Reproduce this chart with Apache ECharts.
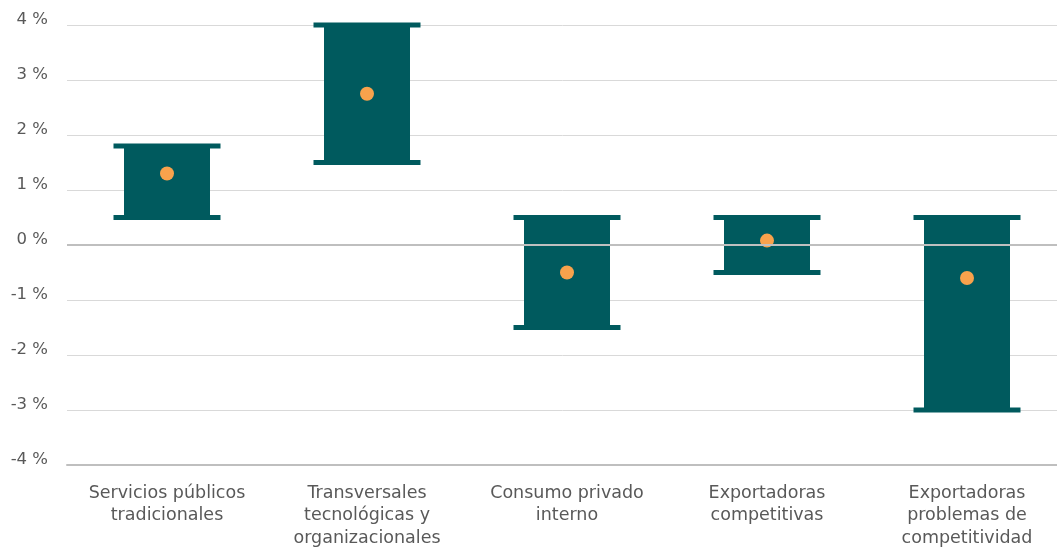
<!DOCTYPE html>
<html>
<head>
<meta charset="utf-8">
<script src="https://cdn.jsdelivr.net/npm/echarts@6/dist/echarts.min.js"></script>
<style>
  html, body { margin: 0; padding: 0; background: #ffffff; }
  #chart { width: 1057px; height: 548px; }
</style>
</head>
<body>
<div id="chart"></div>
<script>
// Sector groups
const categories = [
  'Servicios públicos\ntradicionales',
  'Transversales\ntecnológicas y\norganizacionales',
  'Consumo privado\ninterno',
  'Exportadoras\ncompetitivas',
  'Exportadoras\nproblemas de\ncompetitividad'
];
// Range bounds (%) and central value (%)
const rangeHigh = [1.8, 4.0, 0.5, 0.5, 0.5];
const rangeLow  = [0.5, 1.5, -1.5, -0.5, -3.0];
const midValue  = [1.3, 2.75, -0.5, 0.08, -0.6];

const TEAL = '#005a5e';
const ORANGE = '#f8a24c';
const FONT = '"DejaVu Sans", "Noto Sans", sans-serif';

const rangeData = categories.map((c, i) => [i, rangeLow[i], rangeHigh[i]]);
const midData = categories.map((c, i) => [i, midValue[i]]);

const chart = echarts.init(document.getElementById('chart'), null, { renderer: 'canvas' });

chart.setOption({
  animation: false,
  backgroundColor: '#ffffff',
  grid: { left: 67, top: 25, width: 1000, height: 440, containLabel: false, outerBoundsMode: 'none' },
  xAxis: {
    type: 'category',
    data: categories,
    boundaryGap: true,
    axisLine: { show: true, onZero: false, lineStyle: { color: '#bfbfbf', width: 2 } },
    axisTick: { show: false },
    axisLabel: {
      interval: 0,
      margin: 17,
      color: '#595959',
      fontFamily: FONT,
      fontSize: 17.5,
      lineHeight: 22.5
    }
  },
  yAxis: {
    type: 'value',
    min: -4,
    max: 4,
    interval: 1,
    axisLine: { show: false },
    axisTick: { show: false },
    splitLine: { show: true, lineStyle: { color: '#d9d9d9', width: 1 } },
    axisLabel: {
      margin: 19,
      color: '#595959',
      fontFamily: FONT,
      fontSize: 16.5,
      verticalAlign: 'bottom',
      lineHeight: 17,
      padding: [0, 0, -3, 0],
      formatter: '{value} %'
    }
  },
  series: [
    {
      // zero reference line, drawn beneath the ranges
      type: 'line',
      data: [],
      z: 1,
      silent: true,
      markLine: {
        silent: true,
        symbol: 'none',
        label: { show: false },
        lineStyle: { color: '#bfbfbf', width: 2, type: 'solid' },
        data: [{ yAxis: 0 }]
      }
    },
    {
      type: 'custom',
      z: 2,
      data: rangeData,
      encode: { x: 0, y: [1, 2] },
      renderItem: function (params, api) {
        const x = api.value(0);
        const lo = api.coord([x, api.value(1)]);
        const hi = api.coord([x, api.value(2)]);
        const cx = lo[0];
        const boxW = 86, capW = 107, capH = 5;
        return {
          type: 'group',
          children: [
            {
              type: 'rect',
              shape: { x: cx - boxW / 2, y: hi[1], width: boxW, height: lo[1] - hi[1] },
              style: { fill: TEAL }
            },
            {
              type: 'rect',
              shape: { x: cx - capW / 2, y: hi[1] - capH / 2, width: capW, height: capH },
              style: { fill: TEAL }
            },
            {
              type: 'rect',
              shape: { x: cx - capW / 2, y: lo[1] - capH / 2, width: capW, height: capH },
              style: { fill: TEAL }
            }
          ]
        };
      }
    },
    {
      type: 'scatter',
      z: 3,
      data: midData,
      symbol: 'circle',
      symbolSize: 14,
      itemStyle: { color: ORANGE, opacity: 1 }
    }
  ]
});
</script>
</body>
</html>
